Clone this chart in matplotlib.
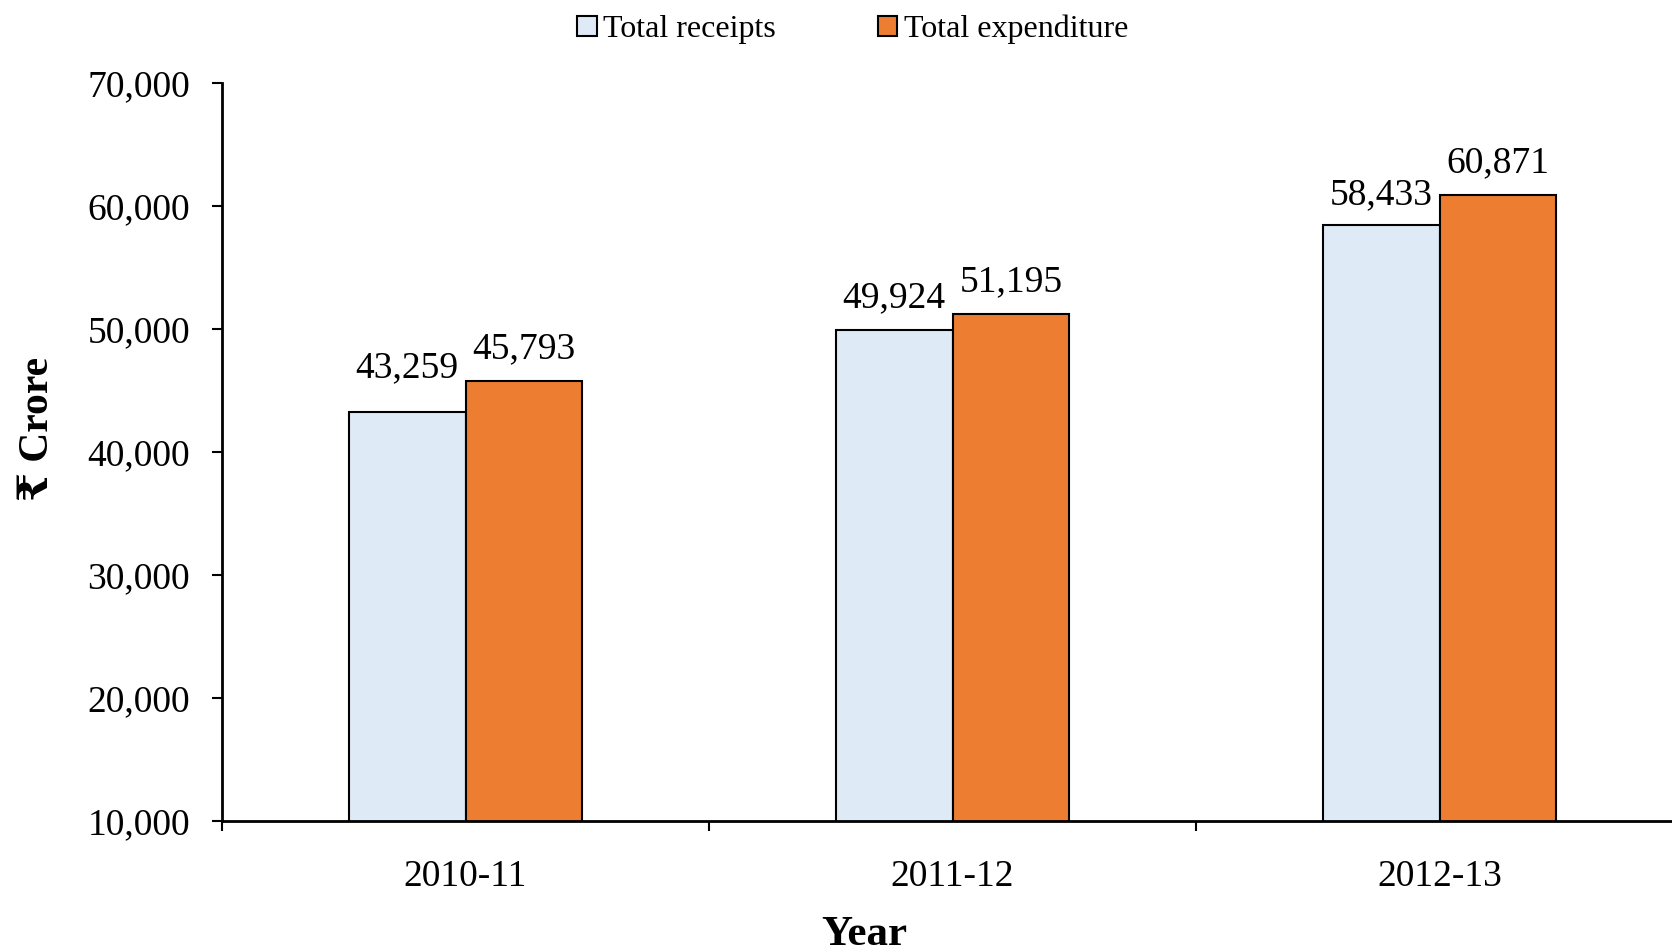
import numpy as np
import matplotlib
matplotlib.use("Agg")
import matplotlib.pyplot as plt
from matplotlib.ticker import FuncFormatter, FixedLocator

plt.rcParams["font.family"] = ["Liberation Serif", "DejaVu Serif", "DejaVu Sans"]

# Données
years = ["2010-11", "2011-12", "2012-13"]
receipts = [43259, 49924, 58433]
expenditure = [45793, 51195, 60871]

# Décalage vertical des étiquettes (points)
receipt_label_offsets = [32, 23, 22]
expend_label_offsets = [23, 23, 23]

fig = plt.figure(figsize=(16.72, 9.52), dpi=100)
ax = fig.add_axes([222 / 1672, 1 - 821 / 952, (1672 - 222) / 1672, (821 - 83) / 952])

x = np.arange(len(years))
w = 0.24
b1 = ax.bar(x - w / 2, receipts, w, color="#DEEAF6", edgecolor="black", linewidth=1.5,
            label="Total receipts", zorder=2)
b2 = ax.bar(x + w / 2, expenditure, w, color="#ED7D31", edgecolor="black", linewidth=1.5,
            label="Total expenditure", zorder=2)

for rect, v, off in zip(b1, receipts, receipt_label_offsets):
    ax.annotate(f"{v:,}", (rect.get_x() + rect.get_width() / 2, v), xytext=(0, off),
                textcoords="offset points", ha="center", va="center", fontsize=27)
for rect, v, off in zip(b2, expenditure, expend_label_offsets):
    ax.annotate(f"{v:,}", (rect.get_x() + rect.get_width() / 2, v), xytext=(0, off),
                textcoords="offset points", ha="center", va="center", fontsize=27)

ax.set_ylim(10000, 70000)
ax.set_yticks(np.arange(10000, 70001, 10000))
ax.yaxis.set_major_formatter(FuncFormatter(lambda v, p: f"{int(v):,}"))
ax.set_xlim(-0.5, 2.5 - 11 / 487)

# Ticks aux limites des catégories, étiquettes au centre
ax.xaxis.set_major_locator(FixedLocator([-0.5, 0.5, 1.5]))
ax.xaxis.set_major_formatter(FuncFormatter(lambda v, p: ""))
ax.xaxis.set_minor_locator(FixedLocator(x))
ax.set_xticklabels(years, minor=True)
ax.tick_params(axis="x", which="minor", length=0, pad=28, labelsize=27)
ax.tick_params(axis="x", which="major", direction="out", length=7, width=1.5)
ax.tick_params(axis="y", direction="out", length=7, width=1.5, labelsize=27, pad=16)

for s in ["top", "right"]:
    ax.spines[s].set_visible(False)
for s in ["left", "bottom"]:
    ax.spines[s].set_linewidth(2)

ax.set_xlabel("Year", fontsize=31, fontweight="bold")
ax.set_ylabel("₹ Crore", fontsize=30, fontweight="bold")
ax.xaxis.set_label_coords(0.443, -0.129)
ax.yaxis.set_label_coords(-0.114, 0.531)

fig.legend(loc="upper center", bbox_to_anchor=(0.51, 1.015), ncol=2, frameon=False,
           fontsize=23, handlelength=0.6, handleheight=0.6, handletextpad=0.2,
           columnspacing=3.2)

plt.savefig("out.png", dpi=100)
